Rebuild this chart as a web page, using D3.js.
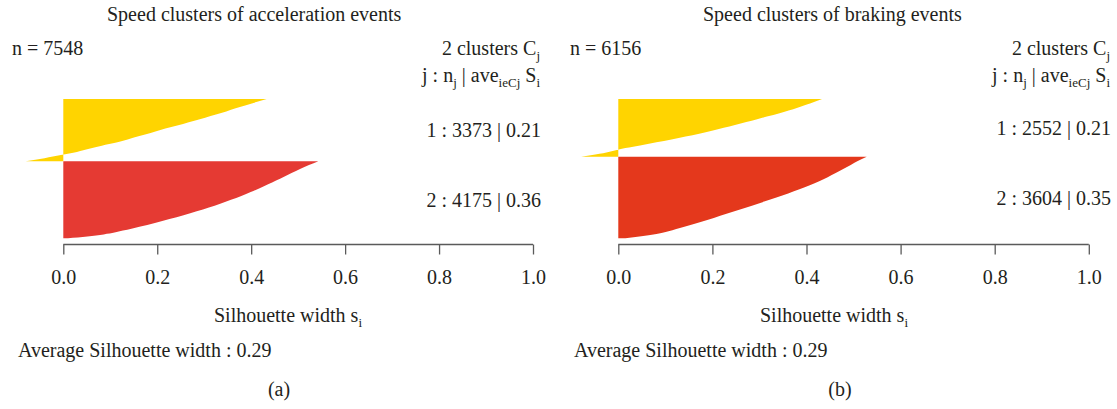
<!DOCTYPE html>
<html>
<head>
<meta charset="utf-8">
<script src="https://cdn.jsdelivr.net/npm/d3@7"></script>
<style>
  body { margin: 0; background: #fff; }
  svg { display: block; font-family: "Liberation Serif", "Times New Roman", serif; }
  text { fill: #231f20; }
</style>
</head>
<body>
<div id="app"></div>
<script>
// silhouette widths, read at every 5% of each cluster (top to bottom, sorted)
const accCluster1 = [0.433, 0.411, 0.389, 0.367, 0.347, 0.325, 0.302, 0.279, 0.255, 0.230, 0.205,
                     0.184, 0.160, 0.137, 0.113, 0.082, 0.055, 0.029, -0.005, -0.040, -0.080];
const accCluster2 = [0.543, 0.523, 0.504, 0.487, 0.470, 0.453, 0.436, 0.418, 0.399, 0.379, 0.357,
                     0.334, 0.310, 0.284, 0.256, 0.226, 0.195, 0.162, 0.127, 0.086, 0.010];
const brkCluster1 = [0.433, 0.416, 0.399, 0.381, 0.362, 0.341, 0.318, 0.295, 0.272, 0.248, 0.224,
                     0.199, 0.172, 0.143, 0.113, 0.081, 0.049, 0.015, -0.012, -0.040, -0.079];
const brkCluster2 = [0.528, 0.510, 0.494, 0.478, 0.462, 0.445, 0.427, 0.407, 0.385, 0.361, 0.336,
                     0.310, 0.284, 0.257, 0.230, 0.203, 0.175, 0.146, 0.115, 0.078, 0.015];

const accSizes = [3373, 4175];
const brkSizes = [2552, 3604];
const accAvg = ["0.21", "0.36"];
const brkAvg = ["0.21", "0.35"];
const overallAvg = ["0.29", "0.29"];
const titles = ["Speed clusters of acceleration events", "Speed clusters of braking events"];
const panelTags = ["(a)", "(b)"];
const tickValues = [0, 0.2, 0.4, 0.6, 0.8, 1.0];

const w = 1117, h = 409;
const svg = d3.select("#app").append("svg")
  .attr("width", w)
  .attr("height", h);

const panels = [
  { profiles: [accCluster1, accCluster2], sizes: accSizes, avg: accAvg, colors: ["#ffd400", "#e53a33"],
    x0: 63.3, x1: 533, titleX: 107, nX: 12, rightX: 541, avgX: 18, labX: 288, tagX: 279 },
  { profiles: [brkCluster1, brkCluster2], sizes: brkSizes, avg: brkAvg, colors: ["#ffd400", "#e4381c"],
    x0: 618.3, x1: 1088.8, titleX: 703, nX: 570, rightX: 1111, avgX: 574, labX: 834, tagX: 840 }
];

panels.forEach((p, k) => {
  const g = svg.append("g");
  const n = d3.sum(p.sizes);
  const x = d3.scaleLinear().domain([0, 1]).range([p.x0, p.x1]);
  const y = d3.scaleLinear().domain([0, n]).range([99, 238.3]);

  let start = 0;
  p.profiles.forEach((vals, c) => {
    const size = p.sizes[c];
    const pts = vals.map((v, i) => ({ pos: start + size * i / (vals.length - 1), v: v }));
    const area = d3.area()
      .y(d => y(d.pos))
      .x0(x(0))
      .x1(d => x(d.v))
      .curve(d3.curveMonotoneY);
    g.append("path")
      .datum(pts)
      .attr("d", area)
      .attr("fill", p.colors[c]);

    // cluster label, centred on its band
    g.append("text")
      .attr("x", p.rightX)
      .attr("y", y(start + size / 2) + 7)
      .attr("text-anchor", "end")
      .style("font-size", "20px")
      .text((c + 1) + " : " + size + " | " + p.avg[c]);
    start += size;
  });

  // axis
  const axis = d3.axisBottom(x).tickValues(tickValues).tickSize(10).tickFormat(d3.format(".1f"));
  const ax = g.append("g")
    .attr("transform", "translate(0,244.5)")
    .call(axis);
  ax.select(".domain").attr("stroke", "#5a5a5a").attr("stroke-width", 1.3)
    .attr("d", "M" + x(0) + ",0H" + x(1));
  ax.selectAll(".tick line").attr("stroke", "#5a5a5a").attr("stroke-width", 1.3);
  ax.selectAll(".tick text")
    .attr("y", 0).attr("dy", null)
    .attr("transform", "translate(0,39)")
    .style("font-size", "20px")
    .style("font-family", "Liberation Serif")
    .attr("fill", "#231f20");

  // title
  g.append("text").attr("x", p.titleX).attr("y", 21)
    .style("font-size", "20px").text(titles[k]);

  g.append("text").attr("x", p.nX).attr("y", 55)
    .style("font-size", "20px").text("n = " + n);

  const t1 = g.append("text").attr("x", p.rightX - 1).attr("y", 55)
    .attr("text-anchor", "end").style("font-size", "20px");
  t1.append("tspan").text(p.sizes.length + " clusters C");
  t1.append("tspan").attr("dy", 5).style("font-size", "13px").text("j");

  const t2 = g.append("text").attr("x", p.rightX - 1).attr("y", 82)
    .attr("text-anchor", "end").style("font-size", "20px");
  t2.append("tspan").text("j : n");
  t2.append("tspan").attr("dy", 5).style("font-size", "13px").text("j");
  t2.append("tspan").attr("dy", -5).text(" | ave");
  t2.append("tspan").attr("dy", 5).style("font-size", "13px").text("ieCj");
  t2.append("tspan").attr("dy", -5).text(" S");
  t2.append("tspan").attr("dy", 5).style("font-size", "13px").text("i");

  const t3 = g.append("text").attr("x", p.labX).attr("y", 322)
    .attr("text-anchor", "middle").style("font-size", "20px");
  t3.append("tspan").text("Silhouette width s");
  t3.append("tspan").attr("dy", 5).style("font-size", "13px").text("i");

  g.append("text").attr("x", p.avgX).attr("y", 357)
    .style("font-size", "20px").text("Average Silhouette width : " + overallAvg[k]);

  g.append("text").attr("x", p.tagX).attr("y", 396)
    .attr("text-anchor", "middle").style("font-size", "20px").text(panelTags[k]);
});
</script>
</body>
</html>
